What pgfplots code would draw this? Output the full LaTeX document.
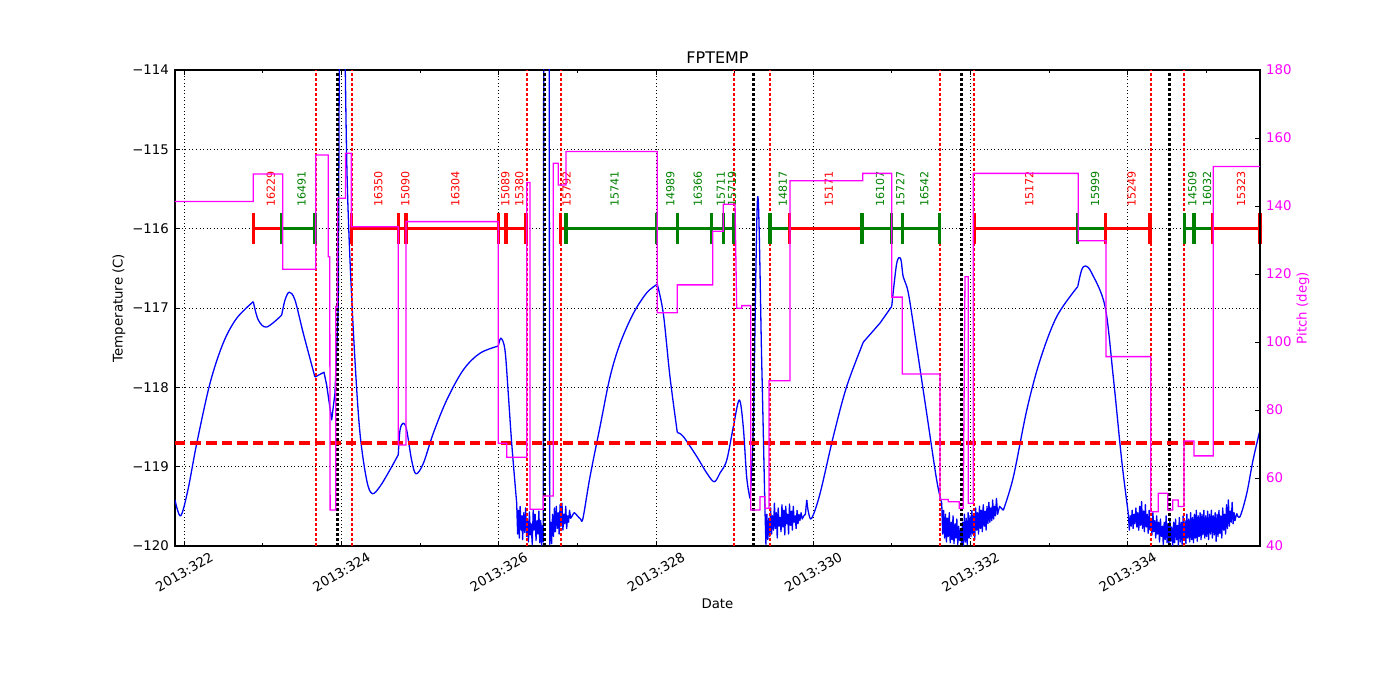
\documentclass[border=0pt]{standalone}
\usepackage{fontspec}
\setmainfont{DejaVu Sans}
\usepackage{pgfplots}
\pgfplotsset{compat=1.18}
\definecolor{mpgreen}{RGB}{0,128,0}
\definecolor{mpmag}{RGB}{255,0,255}
\definecolor{mpblue}{RGB}{0,0,255}
\definecolor{mpred}{RGB}{255,0,0}
\newcommand{\tfont}{\fontsize{13.3}{16}\selectfont}
\newcommand{\ofont}{\fontsize{11.1}{13}\selectfont}
\begin{document}
\begin{tikzpicture}
\path[use as bounding box] (-175pt,-154pt) rectangle (1225pt,546pt);
\begin{axis}[
  at={(0pt,0pt)}, anchor=south west,
  scale only axis, width=1085pt, height=476pt,
  xmin=321.882, xmax=335.682, ymin=-120, ymax=-114,
  xtick={322,324,326,328,330,332,334},
  xticklabels={2013:322,2013:324,2013:326,2013:328,2013:330,2013:332,2013:334},
  minor xtick={323,325,327,329,331,333,335},
  ytick={-120,-119,-118,-117,-116,-115,-114},
  yticklabels={−120,−119,−118,−117,−116,−115,−114},
  xtick pos=both, ytick pos=left,
  tick align=inside, major tick length=5pt, minor tick length=3pt,
  every tick/.style={black, line width=0.9pt},
  axis line style={black, line width=1.2pt},
  grid=major,
  major grid style={black, line width=0.6pt, dash pattern=on 1pt off 2.5pt},
  tick label style={font=\tfont},
  xticklabel style={anchor=center, inner sep=0pt, yshift=-26pt, rotate=30},
  yticklabel style={anchor=east, inner sep=0pt, xshift=-6pt},
  label style={font=\tfont},
  xlabel={Date},
  xlabel style={at={(axis description cs:0.5,-0.122)}, anchor=center},
  ylabel={Temperature (C)},
  ylabel style={at={(axis description cs:-0.0516,0.5)}, anchor=center},
  title={FPTEMP},
  title style={at={(axis description cs:0.5,1)}, anchor=south, inner sep=0pt, yshift=0pt, font=\fontsize{16}{19}\selectfont},
  blue smooth/.style={mpblue, line width=1.3pt, no markers, smooth, tension=0.55, line join=round},
  blue raw/.style={mpblue, line width=1.3pt, no markers, line join=round},
]
% temperature: smooth stretches and noisy stretches
\addplot[blue smooth] table {
321.882 -119.42
321.954 -119.62
322.047 -119.29
322.158 -118.71
322.327 -117.95
322.496 -117.44
322.666 -117.13
322.878 -116.92
};
\addplot[blue smooth] table {
322.878 -116.92
322.941 -117.15
323.048 -117.24
323.239 -117.09
};
\addplot[blue smooth] table {
323.239 -117.09
323.281 -116.90
323.336 -116.80
323.408 -116.90
323.514 -117.32
323.662 -117.87
};
\addplot[blue raw] table {
323.662 -117.87
323.777 -117.81
323.811 -117.97
323.875 -118.41
323.917 -118.07
323.959 -116.98
323.975 -113.00
324.035 -113.00
};
\addplot[blue smooth] table {
324.035 -113.00
324.066 -115.13
324.108 -116.40
324.171 -117.66
324.235 -118.58
324.320 -119.17
324.391 -119.34
324.489 -119.25
324.616 -119.04
324.722 -118.85
};
\addplot[blue smooth] table {
324.722 -118.85
324.744 -118.54
324.786 -118.45
324.829 -118.54
324.892 -118.92
324.947 -119.09
325.040 -118.96
325.167 -118.58
325.338 -118.16
325.549 -117.78
325.761 -117.57
325.994 -117.48
};
\addplot[blue smooth] table {
325.994 -117.48
326.028 -117.38
326.079 -117.53
326.121 -118.08
326.164 -118.70
326.228 -119.46
};
\addplot[blue raw] table {
326.228 -119.46
326.240 -119.85
326.250 -119.55
326.262 -119.90
326.272 -119.50
326.285 -119.80
326.295 -119.62
326.303 -119.92
326.318 -119.58
326.330 -119.83
326.342 -119.52
326.354 -119.88
326.365 -119.66
326.378 -119.95
326.390 -119.57
326.402 -119.86
326.411 -119.72
326.426 -119.98
326.438 -119.55
326.450 -119.80
326.462 -119.60
326.474 -119.93
326.486 -119.68
326.498 -119.85
326.510 -119.56
326.522 -119.96
326.534 -119.68
326.546 -119.99
326.558 -119.74
326.566 -119.95
326.572 -113.00
326.640 -113.00
326.648 -119.98
326.660 -119.70
326.672 -119.97
326.684 -119.60
326.696 -119.88
326.708 -119.52
326.720 -119.82
326.732 -119.50
326.744 -119.78
326.756 -119.58
326.768 -119.85
326.780 -119.48
326.792 -119.75
326.804 -119.46
326.816 -119.80
326.828 -119.60
326.840 -119.72
326.852 -119.50
326.864 -119.78
326.876 -119.62
326.888 -119.70
326.900 -119.55
326.915 -119.65
326.935 -119.62
};
\addplot[blue smooth] table {
326.935 -119.62
326.960 -119.58
327.000 -119.62
327.040 -119.66
327.071 -119.65
327.160 -119.13
327.287 -118.50
327.415 -117.87
327.542 -117.45
327.711 -117.07
327.881 -116.81
328.016 -116.70
};
\addplot[blue smooth] table {
328.016 -116.70
328.093 -117.07
328.178 -117.87
328.271 -118.57
};
\addplot[blue smooth] table {
328.271 -118.57
328.347 -118.62
328.517 -118.87
328.645 -119.08
328.741 -119.19
328.814 -119.08
328.899 -118.92
328.983 -118.50
329.059 -118.16
329.110 -118.50
329.153 -119.13
329.195 -119.40
};
\addplot[blue smooth] table {
329.195 -119.40
329.237 -118.50
329.293 -115.60
329.344 -117.66
329.386 -119.55
};
\addplot[blue raw] table {
329.386 -119.55
329.398 -119.98
329.410 -119.60
329.422 -119.92
329.434 -119.65
329.446 -119.88
329.458 -119.52
329.470 -119.85
329.482 -119.62
329.494 -119.80
329.506 -119.46
329.518 -119.78
329.530 -119.58
329.542 -119.90
329.554 -119.52
329.566 -119.75
329.578 -119.64
329.590 -119.82
329.602 -119.48
329.614 -119.76
329.626 -119.55
329.638 -119.86
329.650 -119.50
329.662 -119.72
329.674 -119.60
329.686 -119.85
329.698 -119.47
329.710 -119.74
329.722 -119.56
329.734 -119.80
329.746 -119.50
329.758 -119.70
329.770 -119.62
329.782 -119.78
329.794 -119.55
329.806 -119.72
329.818 -119.60
329.830 -119.68
329.845 -119.58
329.860 -119.66
329.880 -119.62
329.900 -119.60
329.917 -119.42
};
\addplot[blue smooth] table {
329.917 -119.42
329.940 -119.58
329.980 -119.65
330.086 -119.34
330.255 -118.62
330.425 -117.99
330.637 -117.43
};
\addplot[blue raw] table {
330.637 -117.43
330.849 -117.19
330.998 -116.98
};
\addplot[blue smooth] table {
330.998 -116.98
331.061 -116.44
331.112 -116.38
331.145 -116.61
331.209 -116.81
331.316 -117.49
331.443 -118.33
331.570 -119.17
331.634 -119.46
};
\addplot[blue raw] table {
331.634 -119.46
331.646 -119.85
331.658 -119.55
331.670 -119.90
331.682 -119.60
331.694 -119.95
331.706 -119.65
331.718 -119.88
331.730 -119.58
331.742 -119.96
331.754 -119.70
331.766 -119.92
331.778 -119.62
331.790 -119.97
331.802 -119.72
331.814 -119.90
331.826 -119.66
331.838 -119.98
331.850 -119.75
331.862 -119.93
331.874 -119.80
331.886 -119.99
331.898 -119.70
331.910 -120.00
331.922 -119.60
331.934 -119.95
331.946 -119.65
331.958 -119.98
331.970 -119.58
331.982 -119.90
331.994 -119.62
332.006 -119.88
332.018 -119.55
332.030 -119.85
332.042 -119.60
332.054 -119.92
332.066 -119.52
332.078 -119.80
332.090 -119.58
332.102 -119.85
332.114 -119.50
332.126 -119.78
332.138 -119.55
332.150 -119.82
332.162 -119.48
332.174 -119.75
332.186 -119.56
332.198 -119.80
332.210 -119.50
332.222 -119.72
332.234 -119.45
332.246 -119.70
332.258 -119.52
332.270 -119.68
332.282 -119.42
332.294 -119.66
332.306 -119.50
332.318 -119.62
332.330 -119.40
332.345 -119.60
332.370 -119.50
332.417 -119.55
};
\addplot[blue smooth] table {
332.417 -119.55
332.545 -119.13
332.715 -118.29
332.884 -117.66
333.096 -117.11
333.364 -116.73
};
\addplot[blue smooth] table {
333.364 -116.73
333.414 -116.52
333.465 -116.47
333.542 -116.56
333.711 -116.98
333.816 -117.87
333.923 -118.92
334.007 -119.59
};
\addplot[blue raw] table {
334.007 -119.59
334.020 -119.80
334.032 -119.62
334.044 -119.75
334.056 -119.55
334.068 -119.78
334.080 -119.60
334.092 -119.72
334.104 -119.52
334.116 -119.76
334.128 -119.58
334.140 -119.80
334.152 -119.50
334.164 -119.74
334.176 -119.44
334.188 -119.78
334.200 -119.56
334.212 -119.82
334.224 -119.48
334.236 -119.76
334.248 -119.60
334.260 -119.84
334.272 -119.55
334.284 -119.80
334.296 -119.65
334.308 -119.86
334.320 -119.58
334.332 -119.82
334.344 -119.68
334.356 -119.90
334.368 -119.62
334.380 -119.85
334.392 -119.70
334.404 -119.95
334.416 -119.66
334.428 -119.88
334.440 -119.75
334.452 -119.98
334.464 -119.70
334.476 -119.92
334.488 -119.62
334.500 -119.96
334.512 -119.72
334.524 -119.99
334.536 -119.68
334.548 -119.94
334.560 -119.76
334.572 -120.00
334.584 -119.70
334.596 -119.96
334.608 -119.66
334.620 -119.92
334.632 -119.74
334.644 -119.99
334.656 -119.64
334.668 -119.95
334.680 -119.70
334.692 -119.98
334.704 -119.62
334.716 -119.93
334.728 -119.68
334.740 -119.97
334.752 -119.60
334.764 -119.90
334.776 -119.66
334.788 -119.95
334.800 -119.58
334.812 -119.92
334.824 -119.64
334.836 -119.96
334.848 -119.60
334.860 -119.90
334.872 -119.55
334.884 -119.94
334.896 -119.62
334.908 -119.88
334.920 -119.58
334.932 -119.92
334.944 -119.60
334.956 -119.86
334.968 -119.55
334.980 -119.90
334.992 -119.62
335.004 -119.88
335.016 -119.56
335.028 -119.92
335.040 -119.60
335.052 -119.85
335.064 -119.55
335.076 -119.90
335.088 -119.62
335.100 -119.86
335.112 -119.58
335.124 -119.94
335.136 -119.60
335.148 -119.88
335.160 -119.55
335.172 -119.84
335.184 -119.62
335.196 -119.90
335.208 -119.52
335.220 -119.80
335.232 -119.60
335.244 -119.85
335.256 -119.48
335.268 -119.78
335.280 -119.42
335.292 -119.75
335.304 -119.56
335.316 -119.70
335.328 -119.45
335.340 -119.72
335.352 -119.58
335.364 -119.68
335.386 -119.59
};
\addplot[blue smooth] table {
335.386 -119.59
335.428 -119.63
335.513 -119.34
335.593 -118.92
335.682 -118.54
};
% red dotted verticals
\addplot[mpred, line width=2.2pt, dash pattern=on 2.5pt off 2.5pt] coordinates {(323.671,-120) (323.671,-114)};
\addplot[mpred, line width=2.2pt, dash pattern=on 2.5pt off 2.5pt] coordinates {(324.129,-120) (324.129,-114)};
\addplot[mpred, line width=2.2pt, dash pattern=on 2.5pt off 2.5pt] coordinates {(326.355,-120) (326.355,-114)};
\addplot[mpred, line width=2.2pt, dash pattern=on 2.5pt off 2.5pt] coordinates {(326.788,-120) (326.788,-114)};
\addplot[mpred, line width=2.2pt, dash pattern=on 2.5pt off 2.5pt] coordinates {(328.996,-120) (328.996,-114)};
\addplot[mpred, line width=2.2pt, dash pattern=on 2.5pt off 2.5pt] coordinates {(329.450,-120) (329.450,-114)};
\addplot[mpred, line width=2.2pt, dash pattern=on 2.5pt off 2.5pt] coordinates {(331.612,-120) (331.612,-114)};
\addplot[mpred, line width=2.2pt, dash pattern=on 2.5pt off 2.5pt] coordinates {(332.048,-120) (332.048,-114)};
\addplot[mpred, line width=2.2pt, dash pattern=on 2.5pt off 2.5pt] coordinates {(334.292,-120) (334.292,-114)};
\addplot[mpred, line width=2.2pt, dash pattern=on 2.5pt off 2.5pt] coordinates {(334.719,-120) (334.719,-114)};
% black dotted verticals
\addplot[black, line width=3pt, dash pattern=on 3pt off 2pt] coordinates {(323.946,-120) (323.946,-114)};
\addplot[black, line width=3pt, dash pattern=on 3pt off 2pt] coordinates {(326.588,-120) (326.588,-114)};
\addplot[black, line width=3pt, dash pattern=on 3pt off 2pt] coordinates {(329.237,-120) (329.237,-114)};
\addplot[black, line width=3pt, dash pattern=on 3pt off 2pt] coordinates {(331.888,-120) (331.888,-114)};
\addplot[black, line width=3pt, dash pattern=on 3pt off 2pt] coordinates {(334.529,-120) (334.529,-114)};
% limit
\addplot[mpred, line width=3.5pt, dash pattern=on 10.5pt off 5pt] coordinates {(321.882,-118.7) (335.682,-118.7)};
% observation bars
\pgfplotsset{obs/.style={line width=3.3pt, mark=|, mark size=15.5pt, mark options={line width=3.3pt, solid}}}
\addplot[mpred, obs] coordinates {(322.878,-116) (323.239,-116)};
\addplot[mpgreen, obs] coordinates {(323.239,-116) (323.662,-116)};
\addplot[mpred, obs] coordinates {(324.129,-116) (324.722,-116)};
\addplot[mpred, obs] coordinates {(324.722,-116) (324.820,-116)};
\addplot[mpred, obs] coordinates {(324.820,-116) (325.994,-116)};
\addplot[mpred, obs] coordinates {(325.994,-116) (326.092,-116)};
\addplot[mpred, obs] coordinates {(326.092,-116) (326.346,-116)};
\addplot[mpred, obs] coordinates {(326.788,-116) (326.855,-116)};
\addplot[mpgreen, obs] coordinates {(326.855,-116) (328.009,-116)};
\addplot[mpgreen, obs] coordinates {(328.009,-116) (328.271,-116)};
\addplot[mpgreen, obs] coordinates {(328.271,-116) (328.708,-116)};
\addplot[mpgreen, obs] coordinates {(328.708,-116) (328.861,-116)};
\addplot[mpgreen, obs] coordinates {(328.861,-116) (328.992,-116)};
\addplot[mpgreen, obs] coordinates {(329.450,-116) (329.695,-116)};
\addplot[mpred, obs] coordinates {(329.695,-116) (330.620,-116)};
\addplot[mpgreen, obs] coordinates {(330.620,-116) (330.998,-116)};
\addplot[mpgreen, obs] coordinates {(330.998,-116) (331.138,-116)};
\addplot[mpgreen, obs] coordinates {(331.138,-116) (331.603,-116)};
\addplot[mpred, obs] coordinates {(332.048,-116) (333.364,-116)};
\addplot[mpgreen, obs] coordinates {(333.364,-116) (333.720,-116)};
\addplot[mpred, obs] coordinates {(333.720,-116) (334.283,-116)};
\addplot[mpgreen, obs] coordinates {(334.719,-116) (334.843,-116)};
\addplot[mpgreen, obs] coordinates {(334.843,-116) (335.081,-116)};
\addplot[mpred, obs] coordinates {(335.081,-116) (335.682,-116)};
% labels
\tikzset{olab/.style={rotate=90, anchor=west, inner sep=0pt, font=\ofont}}
\node[olab, text=mpred]   at (axis cs:323.100,-115.72) {16229};
\node[olab, text=mpgreen] at (axis cs:323.492,-115.72) {16491};
\node[olab, text=mpred]   at (axis cs:324.467,-115.72) {16350};
\node[olab, text=mpred]   at (axis cs:324.812,-115.72) {15090};
\node[olab, text=mpred]   at (axis cs:325.448,-115.72) {16304};
\node[olab, text=mpred]   at (axis cs:326.084,-115.72) {15089};
\node[olab, text=mpred]   at (axis cs:326.260,-115.72) {15380};
\node[olab, text=mpred]   at (axis cs:326.863,-115.72) {15792};
\node[olab, text=mpgreen] at (axis cs:327.473,-115.72) {15741};
\node[olab, text=mpgreen] at (axis cs:328.181,-115.72) {14989};
\node[olab, text=mpgreen] at (axis cs:328.531,-115.72) {16366};
\node[olab, text=mpgreen] at (axis cs:328.826,-115.72) {15711};
\node[olab, text=mpgreen] at (axis cs:328.968,-115.72) {15719};
\node[olab, text=mpgreen] at (axis cs:329.614,-115.72) {14817};
\node[olab, text=mpred]   at (axis cs:330.199,-115.72) {15171};
\node[olab, text=mpgreen] at (axis cs:330.850,-115.72) {16107};
\node[olab, text=mpgreen] at (axis cs:331.109,-115.72) {15727};
\node[olab, text=mpgreen] at (axis cs:331.412,-115.72) {16542};
\node[olab, text=mpred]   at (axis cs:332.747,-115.72) {15172};
\node[olab, text=mpgreen] at (axis cs:333.583,-115.72) {15999};
\node[olab, text=mpred]   at (axis cs:334.050,-115.72) {15249};
\node[olab, text=mpgreen] at (axis cs:334.822,-115.72) {14509};
\node[olab, text=mpgreen] at (axis cs:335.010,-115.72) {16032};
\node[olab, text=mpred]   at (axis cs:335.440,-115.72) {15323};
\end{axis}
\begin{axis}[
  at={(0pt,0pt)}, anchor=south west,
  scale only axis, width=1085pt, height=476pt,
  xmin=321.882, xmax=335.682, ymin=40, ymax=180,
  axis x line=none, axis y line*=right,
  ytick={40,60,80,100,120,140,160,180},
  yticklabels={40,60,80,100,120,140,160,180},
  ytick pos=right, tick align=inside, major tick length=5pt,
  every tick/.style={black, line width=0.9pt},
  axis line style={black, line width=1.2pt},
  tick label style={font=\tfont},
  yticklabel style={anchor=west, inner sep=0pt, xshift=6pt, text=mpmag},
  ylabel={Pitch (deg)},
  ylabel style={at={(axis description cs:1.0396,0.5)}, anchor=center, font=\tfont, text=mpmag},
]
\addplot[mpmag, line width=1.3pt, no markers] table {
321.882 141.3
322.878 141.3
322.878 149.4
323.252 149.4
323.252 121.4
323.671 121.4
323.671 155.0
323.832 155.0
323.832 125.1
323.850 125.1
323.855 50.6
323.926 50.6
323.926 110.4
323.945 110.4
323.950 142.3
324.050 142.3
324.050 155.5
324.125 155.5
324.125 133.9
324.722 133.9
324.722 69.7
324.820 69.7
324.820 135.4
325.994 135.4
325.994 70.2
326.101 70.2
326.101 66.1
326.355 66.1
326.355 146.9
326.397 146.9
326.397 50.8
326.566 50.8
326.566 54.7
326.694 54.7
326.694 152.6
326.757 152.6
326.757 146.2
326.855 146.2
326.855 156.0
328.016 156.0
328.016 108.6
328.271 108.6
328.271 116.8
328.721 116.8
328.721 132.6
328.856 132.6
328.856 140.5
329.005 140.5
329.026 109.9
329.090 109.9
329.090 110.7
329.204 110.7
329.204 50.6
329.323 50.6
329.323 54.5
329.386 54.5
329.386 51.1
329.437 51.1
329.437 88.6
329.704 88.6
329.704 147.4
330.629 147.4
330.629 149.6
330.998 149.6
330.998 113.2
331.132 113.2
331.132 90.6
331.612 90.6
331.612 53.7
331.718 53.7
331.718 53.0
331.858 53.0
331.858 51.1
331.908 51.1
331.930 119.2
331.972 119.2
331.972 52.6
332.036 52.6
332.036 149.6
333.371 149.6
333.371 129.8
333.724 129.8
333.724 95.7
334.292 95.7
334.292 50.1
334.389 50.1
334.389 55.5
334.508 55.5
334.508 50.6
334.572 50.6
334.572 53.5
334.643 53.5
334.643 51.6
334.716 51.6
334.716 70.9
334.843 70.9
334.843 66.5
335.088 66.5
335.088 151.6
335.682 151.6
};
\end{axis}
\end{tikzpicture}
\end{document}
